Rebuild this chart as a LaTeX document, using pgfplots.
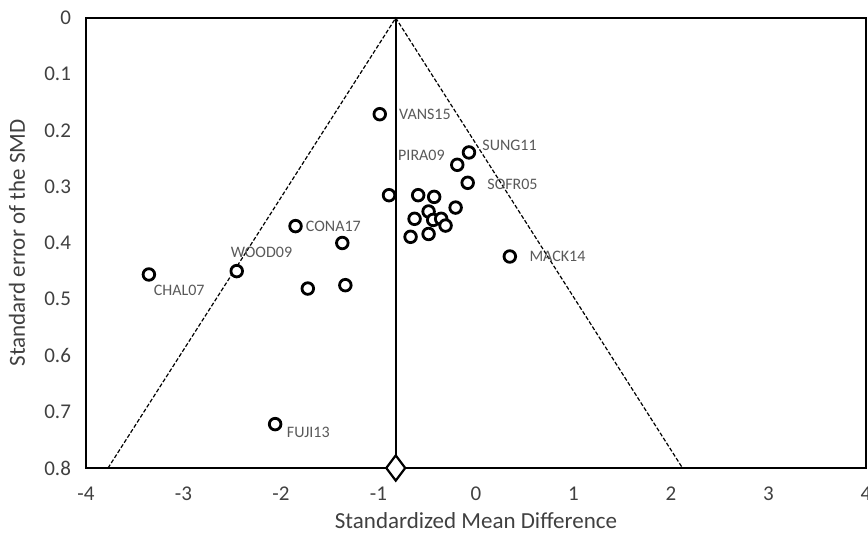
\documentclass[border=0pt]{standalone}
\usepackage{fontspec}
\setmainfont{Carlito}
\usepackage{pgfplots}
\pgfplotsset{compat=1.18}
\definecolor{tickgray}{HTML}{404040}
\definecolor{lblgray}{HTML}{595959}
\begin{document}
\begin{tikzpicture}
\path[use as bounding box] (-43pt,-35.5pt) rectangle (391pt,234pt);
\begin{axis}[
  scale only axis, width=390pt, height=225pt,
  at={(0,0)}, anchor=south west,
  xmin=-4, xmax=4, ymin=0, ymax=0.8, y dir=reverse,
  xtick={-4,-3,-2,-1,0,1,2,3,4},
  ytick={0,0.1,0.2,0.3,0.4,0.5,0.6,0.7,0.8},
  yticklabels={0,0.1,0.2,0.3,0.4,0.5,0.6,0.7,0.8},
  xticklabels={-4,-3,-2,-1,0,1,2,3,4},
  major tick length=0pt,
  axis line style={line width=1.25pt, black},
  /pgf/number format/assume math mode=true,
  tick label style={font=\fontsize{10.5}{13}\selectfont, text=tickgray},
  xticklabel style={yshift=-6pt},
  yticklabel style={xshift=-4pt},
  label style={font=\fontsize{11.5}{14}\selectfont, text=tickgray},
  xlabel={Standardized Mean Difference},
  ylabel={Standard error of the SMD},
  xlabel style={at={(axis description cs:0.5,0)}, anchor=center, yshift=-26.5pt},
  ylabel style={at={(axis description cs:-0.0885,0.5)}, anchor=center},
  clip=false,
]
\addplot[black, line width=0.6pt, dash pattern=on 2pt off 1pt] coordinates {(-3.774,0.8) (-0.823,0) (2.118,0.8)};
\addplot[black, line width=0.75pt] coordinates {(-0.823,0) (-0.823,0.8)};
\addplot[only marks, mark=*, mark size=2.9pt, mark options={draw=black, fill=white, line width=1.4pt}] coordinates {
(-0.987,0.171) (-0.072,0.239) (-0.192,0.261) (-0.085,0.293)
(-0.892,0.315) (-0.593,0.315) (-0.429,0.318) (-0.209,0.337)
(-0.486,0.344) (-0.630,0.357) (-0.439,0.359) (-0.357,0.357)
(-0.312,0.369) (-0.671,0.389) (-0.486,0.384) (-1.851,0.370)
(-1.371,0.400) (0.347,0.424) (-1.725,0.481) (-1.340,0.475)
(-3.355,0.456) (-2.454,0.450) (-2.060,0.722)
};
\addplot[only marks, mark=diamond*, mark size=6.3pt, mark options={draw=black, fill=white, line width=1.1pt}] coordinates {(-0.823,0.8)};
\begin{scope}[every node/.style={anchor=west, inner sep=0pt, text=lblgray, font=\fontsize{8}{10}\selectfont}]
\node at (axis cs:-0.792,0.171) {VANS15};
\node at (axis cs:0.062,0.226) {SUNG11};
\node at (axis cs:-0.802,0.244) {PIRA09};
\node at (axis cs:0.113,0.295) {SOFR05};
\node at (axis cs:-1.748,0.370) {CONA17};
\node at (axis cs:-2.519,0.416) {WOOD09};
\node at (axis cs:-3.308,0.484) {CHAL07};
\node at (axis cs:0.545,0.424) {MACK14};
\node at (axis cs:-1.943,0.736) {FUJI13};
\end{scope}
\end{axis}
\end{tikzpicture}
\end{document}
